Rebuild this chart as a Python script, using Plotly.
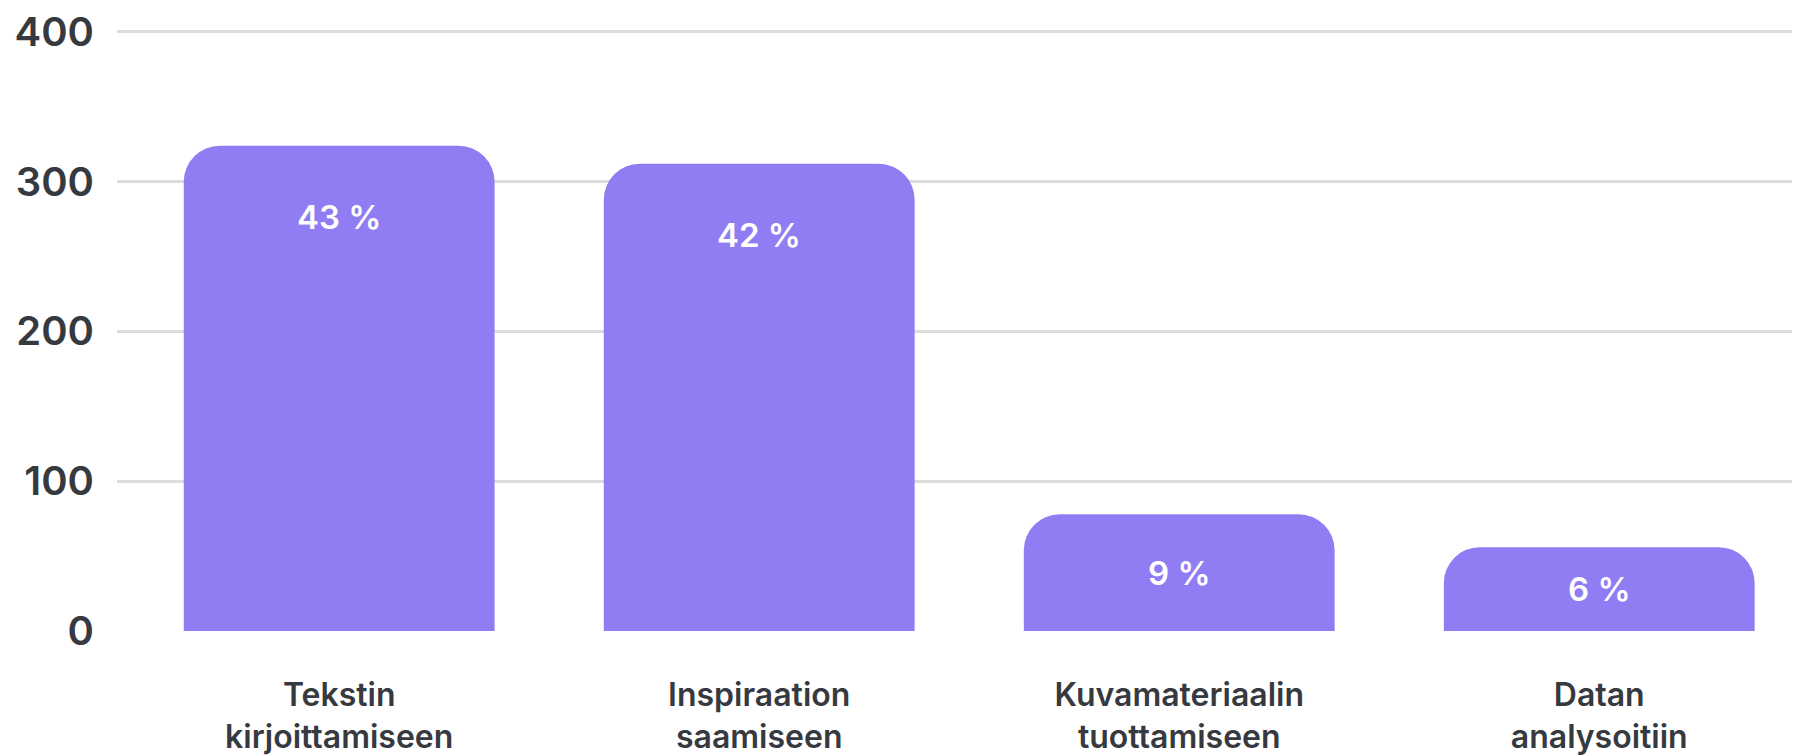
import plotly.graph_objects as go

categories = ["Tekstin<br>kirjoittamiseen", "Inspiraation<br>saamiseen",
              "Kuvamateriaalin<br>tuottamiseen", "Datan<br>analysoitiin"]
values = [324, 312, 78, 56]
pct_labels = ["43 %", "42 %", "9 %", "6 %"]
y_ticks = [0, 100, 200, 300, 400]

BAR_COLOR = "#907CF3"
TEXT_COLOR = "#363A40"
FONT = "Inter"

fig = go.Figure()
fig.add_trace(go.Bar(
    x=list(range(len(categories))), y=values,
    marker=dict(color=BAR_COLOR, line=dict(width=0)),
    width=0.74, hoverinfo="skip",
))

# percent labels: near the top of tall bars, centred in short bars
cap = 47.4
for i, (v, t) in enumerate(zip(values, pct_labels)):
    fig.add_annotation(x=i, y=v - min(cap, v / 2), text=t, showarrow=False,
                       font=dict(family=FONT, size=33, color="white", weight=600),
                       xanchor="center", yanchor="middle")

fig.update_layout(
    width=1800, height=756,
    margin=dict(l=109, r=8, t=22, b=132.5),
    paper_bgcolor="white", plot_bgcolor="white",
    barcornerradius=36,
    showlegend=False,
    font=dict(family=FONT, color=TEXT_COLOR),
    xaxis=dict(
        range=[-0.529, 3.478], automargin=False,
        tickvals=list(range(len(categories))), ticktext=categories,
        tickfont=dict(family=FONT, size=32, color=TEXT_COLOR, weight=600),
        showgrid=False, zeroline=False, showline=False, ticks="",
        ticklabelstandoff=42,
    ),
    yaxis=dict(
        range=[0, 401.3], automargin=False,
        tickvals=y_ticks,
        tickfont=dict(family=FONT, size=40, color=TEXT_COLOR, weight=600),
        showgrid=True, gridcolor="#DCDCDC", gridwidth=3,
        zeroline=False, showline=False, ticks="",
        ticklabelstandoff=22, ticklabeloverflow="allow",
    ),
)

fig.write_html("out.html")
